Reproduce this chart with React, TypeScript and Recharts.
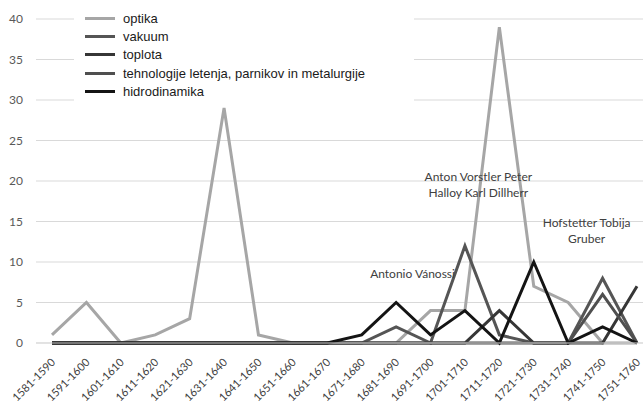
import { LineChart, Line, XAxis, YAxis, CartesianGrid, ReferenceDot } from 'recharts';

const categories = [
  '1581-1590', '1591-1600', '1601-1610', '1611-1620', '1621-1630', '1631-1640',
  '1641-1650', '1651-1660', '1661-1670', '1671-1680', '1681-1690', '1691-1700',
  '1701-1710', '1711-1720', '1721-1730', '1731-1740', '1741-1750', '1751-1760',
];
const optika = [1, 5, 0, 1, 3, 29, 1, 0, 0, 0, 0, 4, 4, 39, 7, 5, 0, 0];
const vakuum = [0, 0, 0, 0, 0, 0, 0, 0, 0, 0, 2, 0, 12, 1, 0, 0, 8, 0];
const toplota = [0, 0, 0, 0, 0, 0, 0, 0, 0, 0, 0, 0, 0, 4, 0, 0, 0, 7];
const tehnologije = [0, 0, 0, 0, 0, 0, 0, 0, 0, 0, 0, 0, 0, 0, 0, 0, 6, 0];
const hidrodinamika = [0, 0, 0, 0, 0, 0, 0, 0, 0, 1, 5, 1, 4, 0, 10, 0, 2, 0];
const yTicks = [0, 5, 10, 15, 20, 25, 30, 35, 40];

const series = [
  { key: 'optika', name: 'optika', color: '#a6a6a6' },
  { key: 'vakuum', name: 'vakuum', color: '#555555' },
  { key: 'toplota', name: 'toplota', color: '#363636' },
  { key: 'tehnologije', name: 'tehnologije letenja, parnikov in metalurgije', color: '#4f4f4f' },
  { key: 'hidrodinamika', name: 'hidrodinamika', color: '#141414' },
];

const annotations = [
  { x: '1691-1700', y: 8.6, dx: -18, lines: ['Antonio Vánossi'] },
  { x: '1711-1720', y: 19.5, dx: -21, lines: ['Anton Vorstler Peter', 'Halloy Karl Dillherr'] },
  { x: '1741-1750', y: 13.8, dx: -16, lines: ['Hofstetter Tobija', 'Gruber'] },
];

const data = categories.map((c, i) => ({
  period: c,
  optika: optika[i],
  vakuum: vakuum[i],
  toplota: toplota[i],
  tehnologije: tehnologije[i],
  hidrodinamika: hidrodinamika[i],
}));

const labelFont = 'Lato, "Open Sans", sans-serif';

function XTick({ x, y, payload }: any) {
  return (
    <g transform={`translate(${x + 4},${y + 20})`}>
      <text transform="rotate(-45)" textAnchor="end" fontSize={11} fontFamily={labelFont} fill="#404040">
        {payload.value}
      </text>
    </g>
  );
}

// legend sits over the gridlines with a white box, like the original
function LegendBox() {
  return (
    <div style={{ position: 'absolute', left: 74, top: 7, width: 340, background: '#fff', padding: '2px 0 4px 11px', boxSizing: 'border-box' }}>
      {series.map((s) => (
        <div key={s.key} style={{ display: 'flex', alignItems: 'center', height: 18.3 }}>
          <div style={{ width: 30, height: 3, background: s.color, marginRight: 8 }} />
          <span style={{ fontFamily: '"Liberation Sans", Arial, sans-serif', fontSize: 13, color: '#1a1a1a', whiteSpace: 'nowrap' }}>
            {s.name}
          </span>
        </div>
      ))}
    </div>
  );
}

export default function App() {
  return (
    <div style={{ position: 'absolute', left: 0, top: 0, width: 643, height: 403, background: '#fff', overflow: 'hidden' }}>
      <LineChart width={643} height={403} data={data} margin={{ top: 19, right: 0, bottom: 0, left: 0 }}>
        <CartesianGrid vertical={false} stroke="#d9d9d9" strokeWidth={1} />
        <XAxis
          dataKey="period"
          height={60}
          interval={0}
          padding={{ left: 16, right: 6 }}
          tick={<XTick />}
          tickSize={0}
          tickMargin={0}
          tickLine={false}
          axisLine={{ stroke: '#d9d9d9' }}
        />
        <YAxis
          width={36}
          domain={[0, 40]}
          ticks={yTicks}
          tickSize={0}
          tickMargin={13}
          axisLine={false}
          tickLine={false}
          tick={{ fontSize: 12, fontFamily: labelFont, fill: '#595959' }}
        />
        {series.map((s) => (
          <Line
            key={s.key}
            type="linear"
            dataKey={s.key}
            name={s.name}
            stroke={s.color}
            strokeWidth={3}
            dot={false}
            activeDot={false}
            isAnimationActive={false}
          />
        ))}
        {annotations.map((a) => (
          <ReferenceDot
            key={a.lines[0]}
            x={a.x}
            y={a.y}
            r={0}
            stroke="none"
            fill="none"
            label={(props: any) => {
              const vb = props.viewBox;
              const cx = vb.x + vb.width / 2 + a.dx;
              const cy = vb.y + vb.height / 2;
              const start = cy - ((a.lines.length - 1) * 16) / 2;
              return (
                <text textAnchor="middle" fontSize={12} fontFamily={labelFont} fill="#404040">
                  {a.lines.map((l, i) => (
                    <tspan key={l} x={cx} y={start + i * 16} dy="0.35em">
                      {l}
                    </tspan>
                  ))}
                </text>
              );
            }}
          />
        ))}
      </LineChart>
      <LegendBox />
    </div>
  );
}
